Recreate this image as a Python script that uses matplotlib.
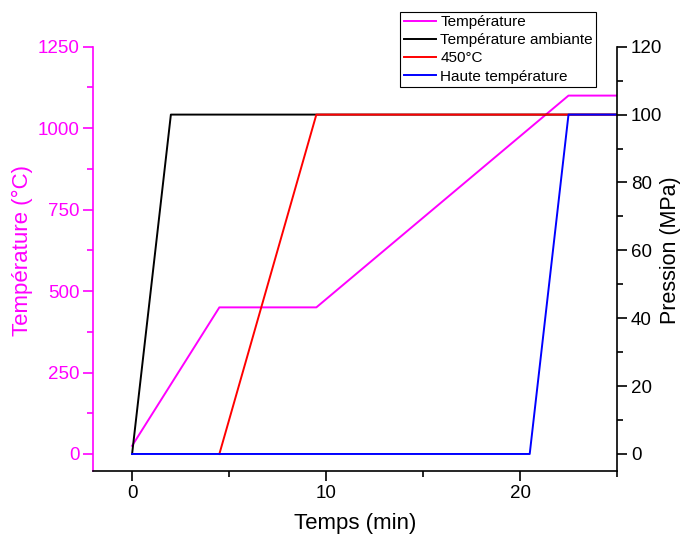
# Temperature / pressure cycles vs time

import matplotlib
matplotlib.use("Agg")
import matplotlib.pyplot as plt
from matplotlib.ticker import MultipleLocator

plt.rcParams['font.family'] = ['Liberation Sans', 'DejaVu Sans']

# Data
temps_temp = [0, 4.5, 9.5, 22.5, 25]
temperature = [25, 450, 450, 1100, 1100]

temps_amb = [0, 2, 25]
pression_amb = [0, 100, 100]

temps_450 = [4.5, 9.5, 25]
pression_450 = [0, 100, 100]

temps_haute = [0, 20.5, 22.5, 25]
pression_haute = [0, 0, 100, 100]

magenta = '#ff00ff'

fig = plt.figure(figsize=(6.81, 5.37), dpi=100)
ax1 = fig.add_axes([0.137, 0.123, 0.769, 0.790])
ax2 = ax1.twinx()

l1, = ax1.plot(temps_temp, temperature, color=magenta, lw=1.4, label='Température')
l2, = ax2.plot(temps_amb, pression_amb, color='black', lw=1.4, label='Température ambiante')
l3, = ax2.plot(temps_450, pression_450, color='red', lw=1.4, label='450°C')
l4, = ax2.plot(temps_haute, pression_haute, color='blue', lw=1.4, label='Haute température')

ymin1 = -5 * 1250 / 120
ax1.set_xlim(-2, 25)
ax1.set_ylim(ymin1, 1250)
ax2.set_ylim(-5, 120)

ax1.xaxis.set_major_locator(MultipleLocator(10))
ax1.xaxis.set_minor_locator(MultipleLocator(5))
ax1.yaxis.set_major_locator(MultipleLocator(250))
ax1.yaxis.set_minor_locator(MultipleLocator(125))
ax2.yaxis.set_major_locator(MultipleLocator(20))
ax2.yaxis.set_minor_locator(MultipleLocator(10))

# spines
for a in (ax1, ax2):
    a.spines['top'].set_visible(False)
ax1.spines['right'].set_visible(False)
ax2.spines['left'].set_visible(False)
ax2.spines['bottom'].set_visible(False)
ax1.spines['left'].set_color(magenta)
for s in ('left', 'bottom'):
    ax1.spines[s].set_linewidth(1.2)
ax2.spines['right'].set_linewidth(1.2)

ax1.tick_params(axis='both', which='major', direction='out', length=7, width=1.2,
                labelsize=13.5, pad=3)
ax1.tick_params(axis='both', which='minor', direction='out', length=4, width=1.2)
ax1.tick_params(axis='y', which='both', colors=magenta)
ax2.tick_params(axis='y', which='major', direction='out', length=7, width=1.2,
                labelsize=13.5, pad=3)
ax2.tick_params(axis='y', which='minor', direction='out', length=4, width=1.2)

ax1.set_xlabel('Temps (min)', fontsize=16, labelpad=8)
ax1.set_ylabel('Température (°C)', fontsize=16, color=magenta)
ax2.set_ylabel('Pression (MPa)', fontsize=15.5)
# labels centred on the 0..max data range, not on the axes
yc = (625 - ymin1) / (1250 - ymin1)
ax1.yaxis.set_label_coords(-0.115, yc)
ax2.yaxis.set_label_coords(1.082, yc)

leg = ax2.legend(handles=[l1, l2, l3, l4], loc='upper right',
                 bbox_to_anchor=(0.875, 0.978), bbox_transform=fig.transFigure,
                 fontsize=11, frameon=True, fancybox=False, framealpha=1,
                 edgecolor='black', borderaxespad=0, borderpad=0.2,
                 handlelength=2.1, handletextpad=0.3, labelspacing=0.28)
leg.get_frame().set_linewidth(0.8)

fig.savefig('out.png', dpi=100)
